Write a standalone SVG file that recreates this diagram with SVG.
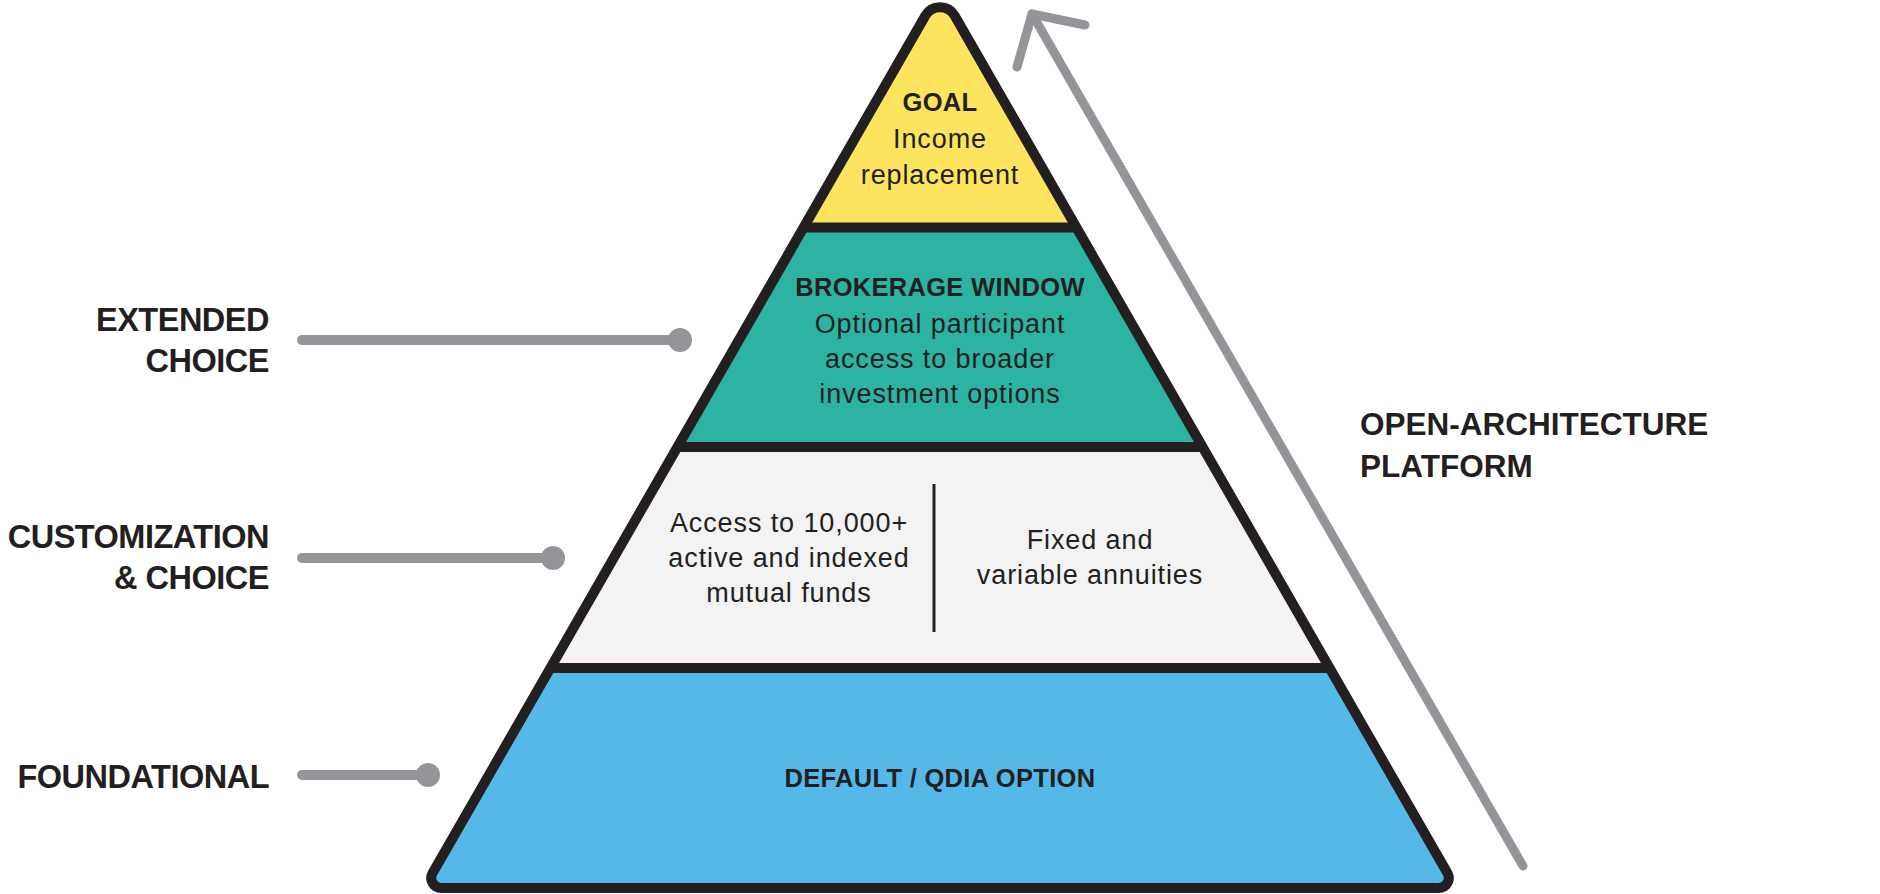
<svg xmlns="http://www.w3.org/2000/svg" width="1880" height="894" viewBox="0 0 1880 894">
  <defs>
    <style>
      .body { font-family: "Liberation Sans", Arial, sans-serif; font-size: 27px; fill: #231F20; letter-spacing: 0.9px; text-anchor: middle; }
      .head { font-family: "Liberation Sans", Arial, sans-serif; font-size: 25.5px; font-weight: bold; fill: #231F20; letter-spacing: 0.3px; text-anchor: middle; }
      .side { font-family: "Liberation Sans", Arial, sans-serif; font-size: 32.5px; font-weight: bold; fill: #231F20; letter-spacing: -0.5px; text-anchor: end; }
      .plat { font-family: "Liberation Sans", Arial, sans-serif; font-size: 31.5px; font-weight: bold; fill: #231F20; }
      .divider { stroke: #231F20; stroke-width: 10; }
      .conn { stroke: #939598; stroke-width: 10; stroke-linecap: round; fill: none; }
      .arrow { stroke: #939598; stroke-width: 9; stroke-linecap: round; stroke-linejoin: round; fill: none; }
    </style>
    <path id="pyr" d="M 925.3 15.7 A 17 17 0 0 1 954.7 15.7 L 1447.4 873 A 10 10 0 0 1 1438.7 888 L 441.3 888 A 10 10 0 0 1 432.6 873 Z"/>
    <clipPath id="pyrClip">
      <use href="#pyr"/>
    </clipPath>
    <marker id="dot" viewBox="0 0 24 24" refX="12" refY="12" markerWidth="24" markerHeight="24" markerUnits="userSpaceOnUse">
      <circle cx="12" cy="12" r="12" fill="#939598"/>
    </marker>
  </defs>

  <rect width="1880" height="894" fill="#FFFFFF"/>

  <g id="pyramid">
    <g clip-path="url(#pyrClip)">
      <rect id="fill-goal" x="400" y="-20" width="1100" height="247.5" fill="#FDE45E"/>
      <rect id="fill-brokerage" x="400" y="227.5" width="1100" height="219.5" fill="#2CB3A2"/>
      <rect id="fill-custom" x="400" y="447" width="1100" height="221" fill="#F3F3F3"/>
      <rect id="fill-default" x="400" y="668" width="1100" height="240" fill="#54B8E8"/>
      <line class="divider" x1="400" y1="227.5" x2="1500" y2="227.5"/>
      <line class="divider" x1="400" y1="447" x2="1500" y2="447"/>
      <line class="divider" x1="400" y1="668" x2="1500" y2="668"/>
    </g>
    <use href="#pyr" fill="none" stroke="#231F20" stroke-width="10" stroke-linejoin="round"/>
  </g>

  <g id="node-goal">
    <text class="head" x="940" y="111" letter-spacing="0">GOAL</text>
    <text class="body" x="940" y="148">Income</text>
    <text class="body" x="940" y="184">replacement</text>
  </g>

  <g id="node-brokerage">
    <text class="head" x="940" y="296">BROKERAGE WINDOW</text>
    <text class="body" x="940" y="333">Optional participant</text>
    <text class="body" x="940" y="368">access to broader</text>
    <text class="body" x="940" y="403">investment options</text>
  </g>

  <g id="node-customization">
    <text class="body" x="789" y="532">Access to 10,000+</text>
    <text class="body" x="789" y="567">active and indexed</text>
    <text class="body" x="789" y="602">mutual funds</text>
    <line x1="934" y1="484" x2="934" y2="632" stroke="#231F20" stroke-width="3"/>
    <text class="body" x="1090" y="549">Fixed and</text>
    <text class="body" x="1090" y="584">variable annuities</text>
  </g>

  <g id="node-default">
    <text class="head" x="940" y="787">DEFAULT / QDIA OPTION</text>
  </g>

  <g id="label-extended">
    <text class="side" x="269" y="331">EXTENDED</text>
    <text class="side" x="269" y="372">CHOICE</text>
  </g>
  <g id="label-customization">
    <text class="side" x="269" y="548">CUSTOMIZATION</text>
    <text class="side" x="269" y="589">&amp; CHOICE</text>
  </g>
  <g id="label-foundational">
    <text class="side" x="269" y="788">FOUNDATIONAL</text>
  </g>
  <g id="label-platform">
    <text class="plat" x="1360" y="435">OPEN-ARCHITECTURE</text>
    <text class="plat" x="1360" y="477">PLATFORM</text>
  </g>

  <g id="connectors">
    <line class="conn" x1="302" y1="340" x2="680" y2="340" marker-end="url(#dot)"/>
    <line class="conn" x1="302" y1="558" x2="553" y2="558" marker-end="url(#dot)"/>
    <line class="conn" x1="302" y1="775" x2="428" y2="775" marker-end="url(#dot)"/>
    <path class="arrow" d="M 1523 866 L 1032 14"/>
    <path class="arrow" d="M 1085 25 L 1032 14 L 1017 67"/>
  </g>
</svg>
